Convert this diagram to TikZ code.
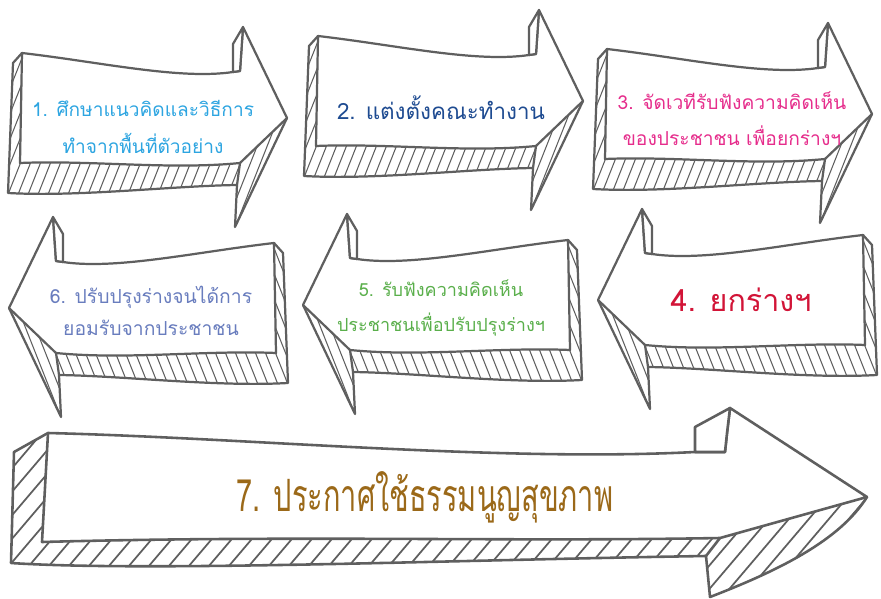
\documentclass[tikz,border=0pt]{standalone}
\usepackage{fontspec}
\newfontfamily\thaifont[Script=Thai]{Loma}
\definecolor{sketch}{RGB}{95,95,95}
\definecolor{skyblue}{RGB}{45,165,225}
\definecolor{navy}{RGB}{30,75,145}
\definecolor{rosepink}{RGB}{230,45,140}
\definecolor{crimson}{RGB}{210,20,55}
\definecolor{leafgreen}{RGB}{90,175,75}
\definecolor{slateblue}{RGB}{105,125,190}
\definecolor{bronze}{RGB}{155,105,25}

% one sketched arrow pointing right, in pixel units
\newcommand{\sketcharrow}{%
  \begin{scope}
    \clip (22,53) -- (13,63) -- (8,193) .. controls (80,197) and (170,186) .. (237,185)
      -- (235,227) -- (287,118) -- (240,163) .. controls (170,170) and (90,160) .. (20,163) -- cycle;
    \foreach \k in {-120,-110,...,300}
      \draw[hatch] (\k,240) -- ++(95,-240);
  \end{scope}
  \draw[outline] (22,53) -- (13,63) -- (8,193) .. controls (80,197) and (170,186) .. (237,185)
    -- (235,227) -- (287,118);
  \draw[outline] (237,185) -- (240,163);
  \draw[outline, fill=white] (22,53) .. controls (100,62) and (180,80) .. (233,72)
    -- (240,71) -- (243,27) -- (287,118) -- (240,163)
    .. controls (170,170) and (90,160) .. (20,163) -- cycle;
  \draw[outline, fill=white] (233,72) -- (233,44) -- (243,27) -- (240,71) -- cycle;
}

\begin{document}
\begin{tikzpicture}[x=0.03cm, y=-0.03cm,
    outline/.style={draw=sketch, line width=1.9pt, line join=round, line cap=round},
    hatch/.style={draw=sketch, line width=0.9pt},
    txt/.style={align=center, font=\thaifont}]
  \useasboundingbox (0,0) rectangle (881,599);

  % top row, pointing right
  \begin{scope} \sketcharrow \end{scope}
  \begin{scope}[shift={(296,-17)}] \sketcharrow \end{scope}
  \begin{scope}[shift={(585,-4)}] \sketcharrow \end{scope}
  % middle row, pointing left
  \begin{scope}[shift={(296,190)}, xscale=-1] \sketcharrow \end{scope}
  \begin{scope}[shift={(590,187)}, xscale=-1] \sketcharrow \end{scope}
  \begin{scope}[shift={(885,182)}, xscale=-1] \sketcharrow \end{scope}

  % long arrow at the bottom
  \begin{scope}
    \clip (48,433) -- (14,452) -- (11,563) .. controls (150,572) and (450,560) .. (706,556)
      -- (710,597) .. controls (780,570) and (840,540) .. (867,497) -- (720,538)
      .. controls (500,542) and (300,535) .. (42,542) -- cycle;
    \foreach \k in {-200,-180,...,900}
      \draw[hatch, line width=1.5pt] (\k,600) -- ++(170,-200);
  \end{scope}
  \draw[outline, line width=2.2pt] (48,433) -- (14,452) -- (11,563) .. controls (150,572) and (450,560) .. (706,556)
    -- (710,597) .. controls (780,570) and (840,540) .. (867,497);
  \draw[outline, line width=2.2pt] (706,556) -- (720,538);
  \draw[outline, line width=2.2pt, fill=white] (48,433) .. controls (250,438) and (500,462) .. (695,452)
    -- (725,452) -- (727,433) -- (730,408) -- (867,497) -- (720,538)
    .. controls (500,542) and (300,535) .. (42,542) -- cycle;
  \draw[outline, line width=2.2pt, fill=white] (695,452) -- (695,427) -- (730,408) -- (727,433) -- (725,452) -- cycle;

  % labels
  \node[txt, text=skyblue, font=\thaifont\fontsize{16.3}{31}\selectfont] (t1) at (143,127)
    {1. ศึกษาแนวคิดและวิธีการ\\ทำจากพื้นที่ตัวอย่าง};
  \node[txt, text=navy, font=\thaifont\fontsize{19.1}{24}\selectfont] (t2) at (441,108)
    {2. แต่งตั้งคณะทำงาน};
  \node[txt, text=rosepink, font=\thaifont\fontsize{16.4}{31}\selectfont] (t3) at (732,119)
    {3. จัดเวทีรับฟังความคิดเห็น\\ของประชาชน เพื่อยกร่างฯ};
  \node[txt, text=crimson, font=\thaifont\fontsize{26}{30}\selectfont] (t4) at (741,300)
    {4. ยกร่างฯ};
  \node[txt, text=leafgreen, font=\thaifont\fontsize{15.4}{30}\selectfont] (t5) at (441,308)
    {5. รับฟังความคิดเห็น\\ประชาชนเพื่อปรับปรุงร่างฯ};
  \node[txt, text=slateblue, font=\thaifont\fontsize{16.5}{27}\selectfont] (t6) at (151,311)
    {6. ปรับปรุงร่างจนได้การ\\ยอมรับจากประชาชน};
  \node[txt, text=bronze, font=\thaifont\fontsize{38}{40}\selectfont, xscale=0.65] (t7) at (425,497)
    {7. ประกาศใช้ธรรมนูญสุขภาพ};
\end{tikzpicture}
\end{document}
